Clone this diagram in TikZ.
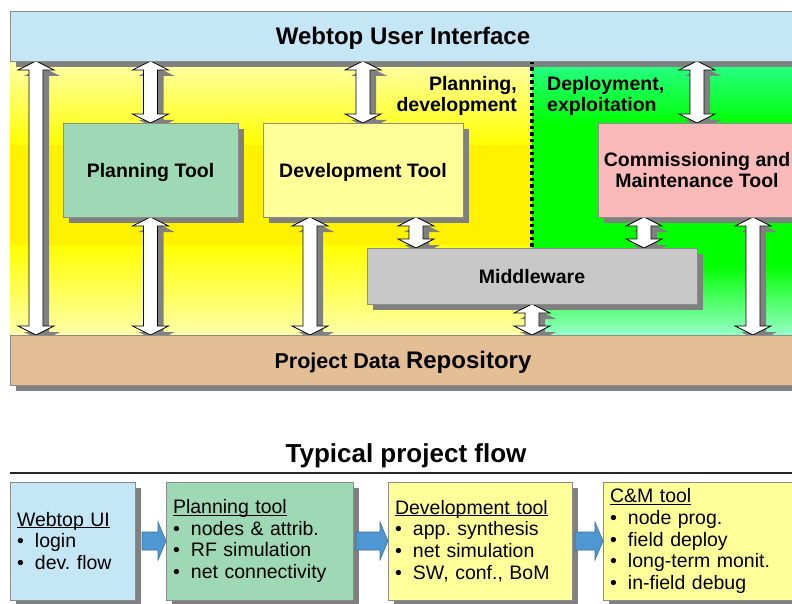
\documentclass[tikz,border=0pt]{standalone}
\usepackage{fontspec}
\setmainfont{Liberation Sans}
\usetikzlibrary{calc}
\frenchspacing

\definecolor{uiblue}{RGB}{197,230,245}
\definecolor{plangreen}{RGB}{158,216,180}
\definecolor{devyellow}{RGB}{255,255,153}
\definecolor{cmpink}{RGB}{251,186,186}
\definecolor{midgray}{RGB}{200,200,200}
\definecolor{repotan}{RGB}{228,190,149}
\definecolor{framegray}{RGB}{140,140,140}
\definecolor{shadowgray}{RGB}{128,128,128}
\definecolor{flowblue}{RGB}{79,151,210}
\definecolor{paleyellow}{RGB}{255,255,170}
\definecolor{springgreen}{RGB}{40,255,140}
\definecolor{mintgreen}{RGB}{150,255,200}

\pgfdeclarelayer{back}
\pgfdeclarelayer{shade}
\pgfdeclarelayer{links}
\pgfsetlayers{back,shade,links,main}

\tikzset{
  block/.style={draw=framegray, line width=0.6pt, inner sep=0pt, outer sep=0pt,
    anchor=north west, align=center, font=\fontsize{19.5}{21.7}\selectfont\bfseries},
  flowbox/.style={draw=framegray, line width=0.6pt, inner xsep=7pt, inner ysep=0pt,
    outer sep=0pt, anchor=north west, align=left, minimum height=118pt,
    font=\fontsize{19.5}{21.7}\selectfont},
  phase/.style={inner sep=0pt, font=\fontsize{19.5}{21.5}\selectfont\bfseries},
  linkarrow/.style={fill=white, draw=black, line width=0.7pt, line join=miter},
  flowarrow/.style={fill=flowblue, draw=flowblue!75!black, line width=0.6pt},
  dotline/.style={line width=3.5pt, dash pattern=on 3.5pt off 3pt},
}

% white double arrow from #1 (x, top) down to #2 (bottom), #3 = shadow offset
\newcommand{\bipoly}[3]{let \p1=(#1), \p2=(#2) in
  (\x1+#3,\y1-#3) -- (\x1+#3+18pt,\y1-#3-9pt) -- (\x1+#3+7pt,\y1-#3-9pt)
  -- (\x1+#3+7pt,\y2-#3+9pt) -- (\x1+#3+18pt,\y2-#3+9pt) -- (\x1+#3,\y2-#3)
  -- (\x1+#3-18pt,\y2-#3+9pt) -- (\x1+#3-7pt,\y2-#3+9pt)
  -- (\x1+#3-7pt,\y1-#3-9pt) -- (\x1+#3-18pt,\y1-#3-9pt) -- cycle}
\newcommand{\bilink}[2]{%
  \fill[shadowgray] \bipoly{#1}{#2}{6pt};
  \filldraw[linkarrow] \bipoly{#1}{#2}{0pt};}
% blue block arrow from #1 to #2
\newcommand{\flowlink}[2]{%
  \filldraw[flowarrow] let \p1=(#1), \p2=(#2) in
    (\x1,\y1+9pt) -- (\x2-8pt,\y1+9pt) -- (\x2-8pt,\y1+19pt) -- (\x2,\y1)
    -- (\x2-8pt,\y1-19pt) -- (\x2-8pt,\y1-9pt) -- (\x1,\y1-9pt) -- cycle;}

\newsavebox{\headbox}
\newcommand{\flowhead}[1]{\sbox{\headbox}{#1}\rlap{\rule[-2.2pt]{\wd\headbox}{1pt}}\usebox{\headbox}}
\newcommand{\flowitem}[1]{\makebox[18pt][l]{\textbullet}#1}

\begin{document}
\begin{tikzpicture}[x=1pt, y=-1pt]
\useasboundingbox (0,0) rectangle (792,604);

% architecture
\node[block, fill=uiblue, minimum width=786pt, minimum height=50pt, text depth=0pt,
  font=\fontsize{24}{26}\selectfont\bfseries] (ui) at (10,11) {Webtop User Interface};
\node[block, fill=plangreen, minimum width=175pt, minimum height=94pt, text depth=0pt] (plan) at (63,123) {Planning Tool};
\node[block, fill=devyellow, minimum width=200pt, minimum height=94pt, text depth=0pt] (dev) at (263,123) {Development Tool};
\node[block, fill=cmpink, minimum width=198pt, minimum height=94pt] (cm) at (598,123) {Commissioning and\\Maintenance Tool};
\node[block, fill=midgray, minimum width=330pt, minimum height=56pt, text depth=0pt] (mid) at (367,248) {Middleware};
\node[block, fill=repotan, minimum width=786pt, minimum height=50pt, text depth=0pt,
  font=\fontsize{21.5}{24}\selectfont\bfseries] (repo) at (10,335) {Project Data {\fontsize{24}{26}\selectfont Repository}};
\node[phase, align=right, anchor=north east] (phaseA) at (517,76) {Planning,\\development};
\node[phase, align=left, anchor=north west] (phaseB) at (547,76) {Deployment,\\exploitation};

% project flow
\node[inner sep=0pt, text depth=0pt, font=\fontsize{26}{28}\selectfont\bfseries] (flowtitle) at (406,453) {Typical project flow};
\draw[line width=1.5pt, black!85] (10,473) -- (792,473);
\node[flowbox, fill=uiblue, text width=111pt] (webui) at (10,482)
  {\flowhead{Webtop UI}\\\flowitem{login}\\\flowitem{dev. flow}};
\node[flowbox, fill=plangreen, text width=173pt] (plantool) at (166,482)
  {\flowhead{Planning tool}\\\flowitem{nodes \& attrib.}\\\flowitem{RF simulation}\\\flowitem{net connectivity}};
\node[flowbox, fill=devyellow, text width=170pt] (devtool) at (388,482)
  {\flowhead{Development tool}\\\flowitem{app. synthesis}\\\flowitem{net simulation}\\\flowitem{SW, conf., BoM}};
\node[flowbox, fill=devyellow, text width=186pt] (cmtool) at (603,482)
  {\flowhead{C\&M tool}\\\flowitem{node prog.}\\\flowitem{field deploy}\\\flowitem{long-term monit.}\\\flowitem{in-field debug}};
\flowlink{[xshift=7pt]webui.east}{plantool.west}
\flowlink{[xshift=3pt]plantool.east}{devtool.west}
\flowlink{[xshift=3pt]devtool.east}{cmtool.west}

\begin{pgfonlayer}{back}
  \shade[top color=paleyellow, bottom color=yellow] (10,61) rectangle (532,145);
  \fill[yellow] (10,145) rectangle (532,245);
  \shade[top color=yellow, bottom color=paleyellow] (10,245) rectangle (532,335);
  \shade[top color=springgreen, bottom color=green] (532,61) rectangle (796,125);
  \fill[green] (532,125) rectangle (796,265);
  \shade[top color=green, bottom color=mintgreen] (532,265) rectangle (796,335);
\end{pgfonlayer}

\begin{pgfonlayer}{shade}
  \foreach \blk in {ui,plan,dev,cm,mid,repo,webui,plantool,devtool,cmtool}
    \fill[shadowgray] ([shift={(6pt,-6pt)}]\blk.north west) rectangle ([shift={(6pt,-6pt)}]\blk.south east);
\end{pgfonlayer}

\begin{pgfonlayer}{links}
  \bilink{[xshift=26pt]ui.south west}{repo.north}
  \bilink{ui.south -| plan.north}{plan.north}
  \bilink{ui.south -| dev.north}{dev.north}
  \bilink{ui.south -| cm.north}{cm.north}
  \bilink{plan.south}{repo.north}
  \bilink{[xshift=-53pt]dev.south}{repo.north}
  \bilink{[xshift=53pt]dev.south}{mid.north}
  \bilink{mid.south}{repo.north}
  \bilink{[xshift=-53pt]cm.south}{mid.north}
  \bilink{[xshift=56pt]cm.south}{repo.north}
  \draw[dotline] (ui.south -| mid.north) -- (mid.north);
\end{pgfonlayer}
\end{tikzpicture}
\end{document}
